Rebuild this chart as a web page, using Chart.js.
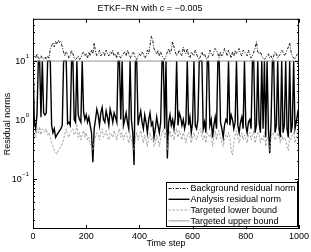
<!DOCTYPE html>
<html>
<head>
<meta charset="utf-8">
<script src="https://cdn.jsdelivr.net/npm/chart.js@4.4.0/dist/chart.umd.min.js"></script>
<style>
  body { margin: 0; background: #fff; }
  canvas { display: block; }
</style>
</head>
<body>
<canvas id="mychart" width="311" height="252"></canvas>
<script>
// time steps, sampled every 5 steps
const steps = Array.from({ length: 201 }, (_, i) => i * 5);

const background = [
  14, 12, 11, 13, 11, 10.5, 12, 11, 10.5, 11.5,
  10.5, 12, 11, 16, 18, 20, 17, 21, 19, 22,
  20, 21, 17, 14, 12, 14, 13, 11, 12, 15,
  13, 11, 10.5, 11, 12, 10.5, 11, 13, 14, 12,
  13, 11, 14, 12, 15, 13, 20, 14, 12, 13,
  15, 12, 13, 14, 12, 15, 13, 12, 14, 13,
  15, 12, 13, 11, 14, 12, 11, 12, 13, 14,
  12, 15, 13, 11, 12, 14, 13, 11, 10.5, 12,
  13, 12, 14, 13, 11, 12, 15, 13, 18, 26,
  22, 16, 14, 13, 15, 12, 14, 12, 11, 10.5,
  12, 14, 16, 13, 15, 21, 17, 14, 12, 13,
  15, 13, 12, 17, 14, 13, 16, 12, 11, 14,
  13, 12, 15, 13, 11, 10.5, 12, 14, 12, 13,
  11, 10.5, 12, 15, 13, 12, 14, 16, 15, 13,
  11, 14, 12, 13, 16, 14, 12, 15, 13, 11,
  14, 12, 15, 13, 14, 16, 13, 12, 15, 14,
  13, 12, 15, 13, 11, 12, 14, 16, 21, 14,
  13, 14, 12, 11, 10.5, 11, 12, 13, 11, 12,
  10.5, 12, 14, 13, 11, 12, 13, 15, 14, 12,
  13, 15, 17, 20, 14, 12, 11, 10.5, 12, 13,
  14
];

const analysis = [
  9.8, 0.9, 0.7, 1.2, 9.8, 9.8, 1.1, 9.8, 1.3, 1.2,
  1.3, 9.8, 9.8, 9.8, 0.8, 0.6, 0.7, 0.5, 0.55, 0.6,
  0.65, 0.7, 0.8, 9.8, 9.8, 9.8, 0.85, 0.9, 0.8, 9.8,
  9.8, 1.0, 0.9, 9.8, 1.2, 1.0, 0.9, 9.8, 1.4, 1.0,
  1.2, 0.9, 1.1, 0.8, 0.6, 0.19, 0.7, 1.0, 1.5, 1.2,
  0.8, 1.3, 1.6, 1.0, 0.9, 1.4, 1.1, 0.8, 1.5, 1.2,
  0.9, 1.3, 1.1, 0.9, 9.8, 9.8, 1.0, 9.8, 0.8, 1.0,
  1.3, 0.9, 0.7, 9.8, 1.0, 0.6, 0.17, 9.8, 9.8, 0.8,
  1.1, 1.4, 0.9, 0.7, 1.2, 0.9, 0.6, 1.0, 1.3, 0.8,
  0.9, 0.5, 0.7, 1.1, 0.8, 0.6, 0.9, 9.8, 9.8, 0.7,
  9.8, 0.22, 0.9, 1.2, 0.8, 1.0, 0.7, 1.1, 9.8, 0.8,
  1.3, 1.1, 0.8, 1.0, 0.7, 0.9, 9.8, 0.8, 1.1, 0.6,
  0.9, 9.8, 0.8, 0.7, 1.0, 9.8, 9.8, 9.8, 0.7, 0.9,
  0.6, 9.8, 9.8, 0.8, 1.0, 0.5, 0.8, 1.1, 0.7, 9.8,
  9.8, 0.9, 0.7, 0.5, 0.8, 1.0, 0.9, 9.8, 0.8, 1.2,
  1.0, 0.7, 0.9, 9.8, 0.8, 0.6, 0.9, 1.1, 0.7, 9.8,
  0.8, 0.6, 0.9, 1.0, 0.7, 9.8, 9.8, 0.6, 0.8, 9.8,
  0.9, 0.6, 9.8, 0.7, 9.8, 0.5, 9.8, 0.7, 0.27, 0.9,
  9.8, 9.8, 0.6, 0.8, 9.8, 0.7, 0.5, 9.8, 0.6, 0.8,
  9.8, 0.7, 0.5, 9.8, 0.6, 0.8, 9.8, 0.7, 0.9, 1.3,
  1.0
];

const lowerBound = [
  0.45, 0.6, 0.5, 0.7, 0.6, 0.75, 0.55, 0.7, 0.65, 0.6,
  0.7, 0.55, 0.6, 0.5, 0.4, 0.35, 0.3, 0.28, 0.26, 0.3,
  0.32, 0.35, 0.4, 0.45, 0.6, 0.7, 0.55, 0.5, 0.6, 0.65,
  0.7, 0.55, 0.6, 0.8, 0.5, 0.6, 0.45, 0.55, 0.65, 0.5,
  0.6, 0.45, 0.5, 0.4, 0.35, 0.3, 0.45, 0.5, 0.6, 0.55,
  0.45, 0.6, 0.7, 0.5, 0.55, 0.65, 0.5, 0.45, 0.6, 0.55,
  0.5, 0.65, 0.55, 0.45, 0.6, 0.7, 0.5, 0.6, 0.45, 0.55,
  0.6, 0.5, 0.4, 0.55, 0.45, 0.35, 0.3, 0.5, 0.6, 0.45,
  0.55, 0.65, 0.5, 0.4, 0.55, 0.45, 0.35, 0.5, 0.6, 0.45,
  0.5, 0.35, 0.4, 0.55, 0.45, 0.35, 0.5, 0.6, 0.7, 0.5,
  0.6, 0.3, 0.5, 0.65, 0.5, 0.55, 0.45, 0.6, 0.7, 0.5,
  0.65, 0.55, 0.45, 0.6, 0.5, 0.4, 0.55, 0.6, 0.5, 0.4,
  0.5, 0.6, 0.5, 0.45, 0.55, 0.65, 0.7, 0.5, 0.45, 0.55,
  0.4, 0.6, 0.55, 0.5, 0.6, 0.35, 0.5, 0.65, 0.45, 0.6,
  0.65, 0.5, 0.4, 0.35, 0.45, 0.55, 0.5, 0.6, 0.5, 0.3,
  0.25, 0.4, 0.55, 0.65, 0.5, 0.4, 0.5, 0.6, 0.45, 0.55,
  0.5, 0.4, 0.55, 0.6, 0.45, 0.55, 0.65, 0.4, 0.5, 0.6,
  0.55, 0.4, 0.5, 0.45, 0.6, 0.35, 0.5, 0.45, 0.3, 0.5,
  0.6, 0.55, 0.45, 0.5, 0.6, 0.5, 0.4, 0.55, 0.45, 0.5,
  0.45, 0.35, 0.3, 0.5, 0.45, 0.55, 0.6, 0.4, 0.5, 0.65,
  0.55
];

// constant targeted upper bound
const upperSteps = [0, 1000];
const upperBound = [9.8, 9.8];

const xTicks = [0, 200, 400, 600, 800, 1000];
const yTicks = [0.1, 1, 10];
const yTickExp = ['\u22121', '0', '1'];
const yMin = 0.014, yMax = 51;

const legendLabels = ['Background residual norm', 'Analysis residual norm',
  'Targeted lower bound', 'Targeted upper bound'];

const FONT = 'Liberation Sans, Arial, Helvetica, sans-serif';
Chart.defaults.font.family = FONT;
Chart.defaults.font.size = 9;
Chart.defaults.color = '#000';

const toXY = (xs, ys) => xs.map((s, i) => ({ x: s, y: ys[i] }));

const styles = [
  { color: '#000', width: 0.9, dash: [3, 1.5, 1, 1.5] },
  { color: '#000', width: 1.4, dash: [] },
  { color: '#8f8f8f', width: 0.8, dash: [2.5, 1.5] },
  { color: '#888', width: 0.9, dash: [] }
];

const data = {
  datasets: [
    { label: legendLabels[0], data: toXY(steps, background) },
    { label: legendLabels[1], data: toXY(steps, analysis) },
    { label: legendLabels[2], data: toXY(steps, lowerBound) },
    { label: legendLabels[3], data: toXY(upperSteps, upperBound) }
  ].map((d, i) => Object.assign(d, {
    borderColor: styles[i].color,
    borderWidth: styles[i].width,
    borderDash: styles[i].dash,
    pointRadius: 0,
    tension: 0,
    fill: false,
    order: 3 - i
  }))
};

// box, inward ticks, y labels and legend in the MATLAB look
const matlabFrame = {
  id: 'matlabFrame',
  afterDraw(chart) {
    const { ctx, chartArea: a, scales: { x, y } } = chart;
    ctx.save();
    ctx.strokeStyle = '#000';
    ctx.lineWidth = 1;
    ctx.setLineDash([]);
    ctx.strokeRect(a.left + 0.5, a.top + 0.5, a.right - a.left - 1, a.bottom - a.top - 1);
    ctx.beginPath();
    xTicks.forEach(v => {
      const px = Math.round(x.getPixelForValue(v)) + 0.5;
      ctx.moveTo(px, a.bottom); ctx.lineTo(px, a.bottom - 4);
      ctx.moveTo(px, a.top); ctx.lineTo(px, a.top + 4);
    });
    for (let e = -2; e <= 1; e++) {
      for (let m = 1; m <= 9; m++) {
        const v = m * Math.pow(10, e);
        if (v < yMin || v > yMax) continue;
        const len = m === 1 ? 4 : 2;
        const py = Math.round(y.getPixelForValue(v)) + 0.5;
        ctx.moveTo(a.left, py); ctx.lineTo(a.left + len, py);
        ctx.moveTo(a.right, py); ctx.lineTo(a.right - len, py);
      }
    }
    ctx.stroke();

    // y tick labels with superscript exponent
    ctx.fillStyle = '#000';
    ctx.textBaseline = 'middle';
    yTicks.forEach((v, i) => {
      const py = y.getPixelForValue(v);
      ctx.font = '6px ' + FONT;
      const ew = ctx.measureText(yTickExp[i]).width;
      const right = a.left - 4;
      ctx.textAlign = 'left';
      ctx.fillText(yTickExp[i], right - ew, py - 4);
      ctx.font = '9px ' + FONT;
      ctx.textAlign = 'right';
      ctx.fillText('10', right - ew - 0.5, py + 0.5);
    });

    // legend box in the lower right corner
    const bw = 131, bh = 44;
    const bx = Math.round(a.right - 2 - bw) + 0.5;
    const by = Math.round(a.bottom - 3 - bh) + 0.5;
    ctx.fillStyle = '#fff';
    ctx.fillRect(bx, by, bw, bh);
    ctx.strokeStyle = '#000';
    ctx.lineWidth = 1;
    ctx.setLineDash([]);
    ctx.strokeRect(bx, by, bw, bh);
    ctx.font = '9px ' + FONT;
    ctx.textAlign = 'left';
    legendLabels.forEach((t, i) => {
      const yc = by + 6 + i * 10.8;
      ctx.beginPath();
      ctx.strokeStyle = styles[i].color;
      ctx.lineWidth = styles[i].width;
      ctx.setLineDash(styles[i].dash);
      ctx.moveTo(bx + 2, yc); ctx.lineTo(bx + 23, yc);
      ctx.stroke();
      ctx.fillStyle = '#000';
      ctx.fillText(t, bx + 24, yc + 0.5);
    });
    ctx.restore();
  }
};

const config = {
  type: 'line',
  data,
  options: {
    responsive: false,
    animation: false,
    devicePixelRatio: 1,
    layout: { padding: { left: 0, right: 11, top: 0, bottom: 0 } },
    plugins: {
      legend: { display: false },
      tooltip: { enabled: false },
      title: {
        display: true,
        text: 'ETKF\u2212RN with c = \u22120.005',
        font: { size: 9, weight: 'normal' },
        color: '#000',
        padding: { top: 3, bottom: 5 }
      }
    },
    scales: {
      x: {
        type: 'linear',
        min: 0,
        max: 1000,
        grid: { display: false, drawTicks: false },
        border: { display: false },
        afterBuildTicks: s => { s.ticks = xTicks.map(v => ({ value: v })); },
        afterFit: s => { s.height = 23; },
        ticks: { padding: 2, maxRotation: 0, font: { size: 9 }, callback: v => String(v) },
        title: { display: true, text: 'Time step', font: { size: 9 }, padding: { top: 0, bottom: 3 } }
      },
      y: {
        type: 'logarithmic',
        min: yMin,
        max: yMax,
        grid: { display: false, drawTicks: false },
        border: { display: false },
        ticks: { display: false },
        afterFit: s => { s.width = 33; },
        title: { display: true, text: 'Residual norms', font: { size: 9 }, padding: { top: 2, bottom: 0 } }
      }
    }
  },
  plugins: [matlabFrame]
};

let myChart = new Chart(document.getElementById('mychart'), config);
</script>
</body>
</html>
